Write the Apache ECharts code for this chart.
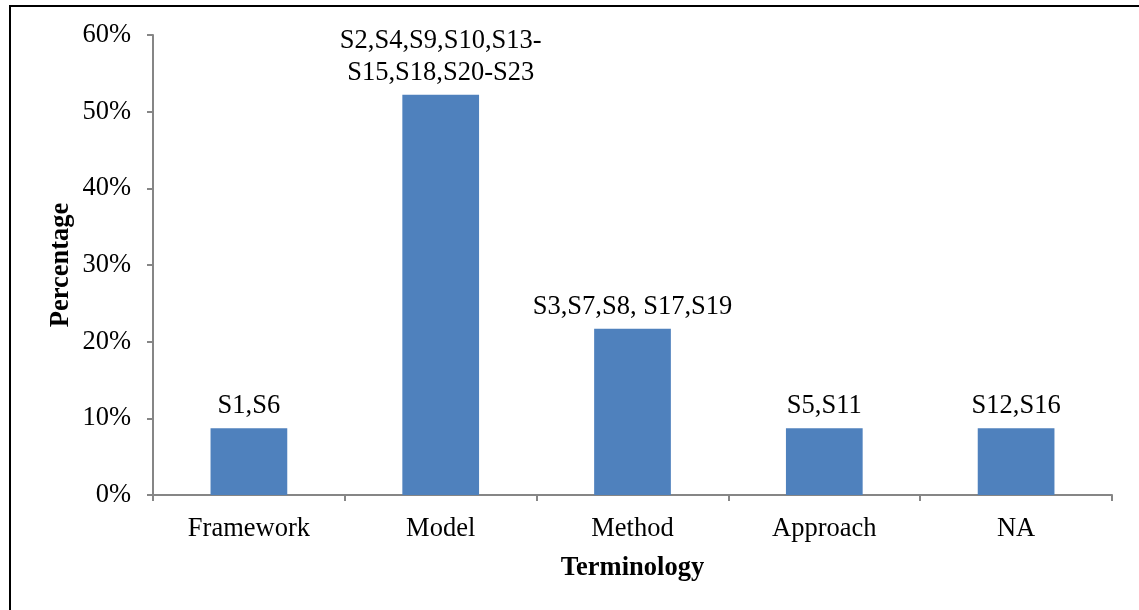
<!DOCTYPE html>
<html>
<head>
<meta charset="utf-8">
<script src="https://cdn.jsdelivr.net/npm/echarts@6/dist/echarts.min.js"></script>
<style>
html,body{margin:0;padding:0;background:#fff;}
#chart{width:1139px;height:610px;}
</style>
</head>
<body>
<div id="chart"></div>
<script>
const categories = ['Framework', 'Model', 'Method', 'Approach', 'NA'];
const values = [8.7, 52.2, 21.7, 8.7, 8.7];
const barLabels = ['S1,S6', 'S2,S4,S9,S10,S13-\nS15,S18,S20-S23', 'S3,S7,S8, S17,S19', 'S5,S11', 'S12,S16'];
const yTicks = { min: 0, max: 60, interval: 10 };

const chart = echarts.init(document.getElementById('chart'));
const font = 'Liberation Serif, Times New Roman, serif';
chart.setOption({
  animation: false,
  backgroundColor: '#fff',
  graphic: [{
    type: 'rect',
    shape: { x: 10, y: 6, width: 1200, height: 700 },
    style: { fill: 'none', stroke: '#000', lineWidth: 2 },
    silent: true
  }],
  grid: { left: 153, right: 27, top: 35, bottom: 115, containLabel: false },
  xAxis: {
    type: 'category',
    data: categories,
    boundaryGap: true,
    name: 'Terminology',
    nameLocation: 'middle',
    nameGap: 60,
    nameTextStyle: { fontFamily: font, fontSize: 26.5, fontWeight: 'bold', color: '#000' },
    axisLine: { lineStyle: { color: '#868686', width: 2 } },
    axisTick: { show: true, length: 6, alignWithLabel: false, lineStyle: { color: '#868686', width: 2 } },
    axisLabel: { fontFamily: font, fontSize: 26.5, color: '#000', margin: 21 }
  },
  yAxis: {
    type: 'value',
    min: yTicks.min, max: yTicks.max, interval: yTicks.interval,
    name: 'Percentage',
    nameLocation: 'middle',
    nameGap: 78,
    nameMoveOverlap: false,
    nameRotate: 90,
    nameTextStyle: { fontFamily: font, fontSize: 26.5, fontWeight: 'bold', color: '#000' },
    splitLine: { show: false },
    axisLine: { show: true, lineStyle: { color: '#868686', width: 2 } },
    axisTick: { show: true, length: 6, lineStyle: { color: '#868686', width: 2 } },
    axisLabel: { fontFamily: font, fontSize: 26.5, color: '#000', margin: 22, formatter: v => v + '%' }
  },
  series: [{
    type: 'bar',
    data: values,
    barWidth: '40%',
    itemStyle: { color: '#4F81BD' },
    label: {
      show: true,
      position: 'top',
      distance: 6,
      fontFamily: font,
      fontSize: 26.5,
      color: '#000',
      lineHeight: 32,
      align: 'center',
      formatter: p => barLabels[p.dataIndex]
    }
  }]
});
</script>
</body>
</html>
